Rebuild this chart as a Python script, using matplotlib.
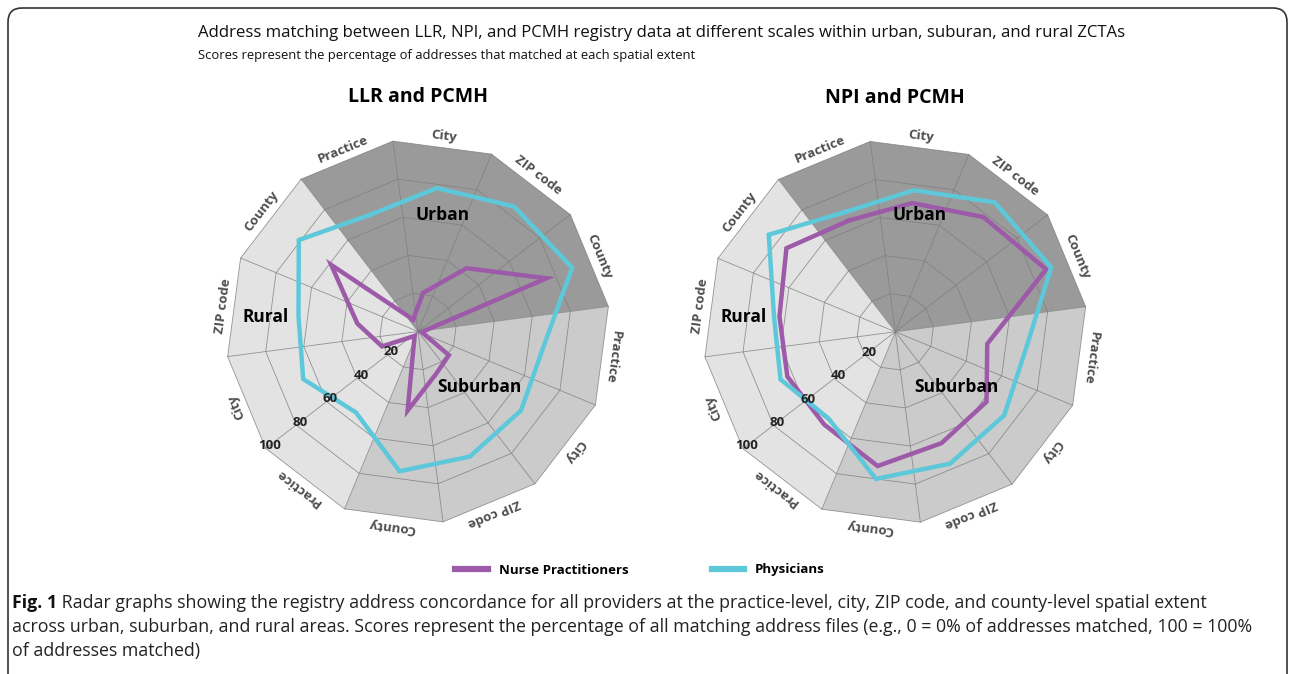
import numpy as np
import matplotlib
matplotlib.use('Agg')
import matplotlib.pyplot as plt
from matplotlib.lines import Line2D
from matplotlib.patches import Polygon, FancyBboxPatch

plt.rcParams['font.family'] = ['Open Sans', 'DejaVu Sans']

# ---- datos ----
regions = ['Urban', 'Suburban', 'Rural']
scales = ['Practice', 'City', 'ZIP code', 'County']
ring_ticks = [20, 40, 60, 80, 100]

# orden: Urban (Practice, City, ZIP code, County), Suburban (...), Rural (...)
llr_nurse = [7, 21, 43, 75, 2, 21, 25, 43, 3, 21, 33, 59]
llr_phys = [68, 78, 85, 90, 68, 70, 73, 76, 55, 67, 65, 81]
npi_nurse = [65, 70, 78, 88, 50, 62, 65, 73, 63, 63, 63, 74]
npi_phys = [70, 77, 88, 91, 71, 74, 77, 80, 59, 67, 66, 86]

panel_titles = ['LLR and PCMH', 'NPI and PCMH']
series_names = ['Nurse Practitioners', 'Physicians']

# ---- estilos ----
region_colors = {'Urban': '#9a9a9a', 'Suburban': '#cbcbcb', 'Rural': '#e3e3e3'}
grid_color = '#7d7d7d'
purple = '#9c5aa8'
cyan = '#5ec8db'
W, H = 1292, 674


def polar_xy(r, ang):
    a = np.radians(ang)
    return r * np.sin(a), r * np.cos(a)


def radar(ax, title, nurse, phys):
    n = len(regions) * len(scales)
    mid = 337.5 + 30 * np.arange(n)
    spokes = mid - 15

    # sectores sombreados
    for k, reg in enumerate(regions):
        angs = 322.5 + 120 * k + 30 * np.arange(5)
        xs, ys = polar_xy(100, angs)
        ax.add_patch(Polygon([(0, 0)] + list(zip(xs, ys)), closed=True,
                             fc=region_colors[reg], ec='none', zorder=1))

    # anillos y radios
    for t in ring_ticks:
        xs, ys = polar_xy(t, np.append(spokes, spokes[0]))
        ax.plot(xs, ys, color=grid_color, lw=0.6, alpha=0.8, zorder=2)
    for a in spokes:
        x, y = polar_xy(100, a)
        ax.plot([0, x], [0, y], color=grid_color, lw=0.6, alpha=0.8, zorder=2)

    # series
    for vals, col in ((nurse, purple), (phys, cyan)):
        r = np.array(vals) * np.cos(np.radians(15))
        xs, ys = polar_xy(np.append(r, r[0]), np.append(mid, mid[0]))
        ax.plot(xs, ys, color=col, lw=3.2, solid_joinstyle='miter', zorder=4)

    # etiquetas de escala
    for i, a in enumerate(mid):
        x, y = polar_xy(102.5, a)
        ax.text(x, y, scales[i % len(scales)], rotation=-a, rotation_mode='anchor',
                ha='center', va='center', fontsize=9.5, fontweight='bold',
                color='#4d4d4d')

    # valores de los anillos
    for t in ring_ticks:
        x, y = polar_xy(t - 2.5, 232.5)
        ax.text(x, y, str(t), ha='center', va='center', fontsize=9.5,
                fontweight='bold', color='#222222', zorder=5)

    # nombres de region
    for reg, (r, a) in zip(regions, [(62, 12), (43, 132), (79.5, 275.5)]):
        x, y = polar_xy(r, a)
        ax.text(x, y, reg, ha='center', va='center', fontsize=12.5,
                fontweight='bold', color='black', zorder=5)

    ax.text(0, 122, title, ha='center', va='center', fontsize=14,
            fontweight='bold', color='black')
    ax.set_xlim(-115, 115)
    ax.set_ylim(-115, 115)
    ax.set_aspect('equal')
    ax.axis('off')


fig = plt.figure(figsize=(W / 100, H / 100), dpi=100)

bg = fig.add_axes([0, 0, 1, 1])
bg.set_xlim(0, W)
bg.set_ylim(H, 0)
bg.axis('off')
bg.add_patch(FancyBboxPatch((8, 8), 1279, 720, boxstyle='round,pad=0,rounding_size=14',
                            fc='none', ec='#333333', lw=1.2))

bg.text(198, 33, 'Address matching between LLR, NPI, and PCMH registry data at different '
        'scales within urban, suburan, and rural ZCTAs', fontsize=12.1, va='center',
        color='#111111')
bg.text(198, 55, 'Scores represent the percentage of addresses that matched at each spatial extent',
        fontsize=9.4, va='center', color='#111111')

scale_px = 1.92
size = 230 * scale_px
centers = [(418, 331.5), (895.3, 331.8)]
data = [(llr_nurse, llr_phys), (npi_nurse, npi_phys)]
for (cx, cy), title, (nurse, phys) in zip(centers, panel_titles, data):
    ax = fig.add_axes([(cx - size / 2) / W, (H - cy - size / 2) / H, size / W, size / H])
    radar(ax, title, nurse, phys)

handles = [Line2D([], [], color=purple, lw=4.5), Line2D([], [], color=cyan, lw=4.5)]
fig.legend(handles, series_names, loc='center', bbox_to_anchor=(640 / W, 1 - 570 / H),
           ncol=2, frameon=False, handlelength=2.5, handletextpad=0.8,
           columnspacing=6.3, prop={'size': 9.5, 'weight': 'bold'})

cap = bg.text(12, 612, 'Fig. 1', fontsize=12.8, fontweight='bold', va='bottom', color='#111111')
bg.annotate(' Radar graphs showing the registry address concordance for all providers at the '
            'practice-level, city, ZIP code, and county-level spatial extent',
            xy=(1, 0), xycoords=cap, va='bottom', ha='left', fontsize=12.8, color='#222222')
bg.text(12, 636, 'across urban, suburban, and rural areas. Scores represent the percentage of all '
        'matching address files (e.g., 0 = 0% of addresses matched, 100 = 100%',
        fontsize=12.8, va='bottom', color='#222222')
bg.text(12, 660, 'of addresses matched)', fontsize=12.8, va='bottom', color='#222222')

fig.savefig('out.png', dpi=100)
